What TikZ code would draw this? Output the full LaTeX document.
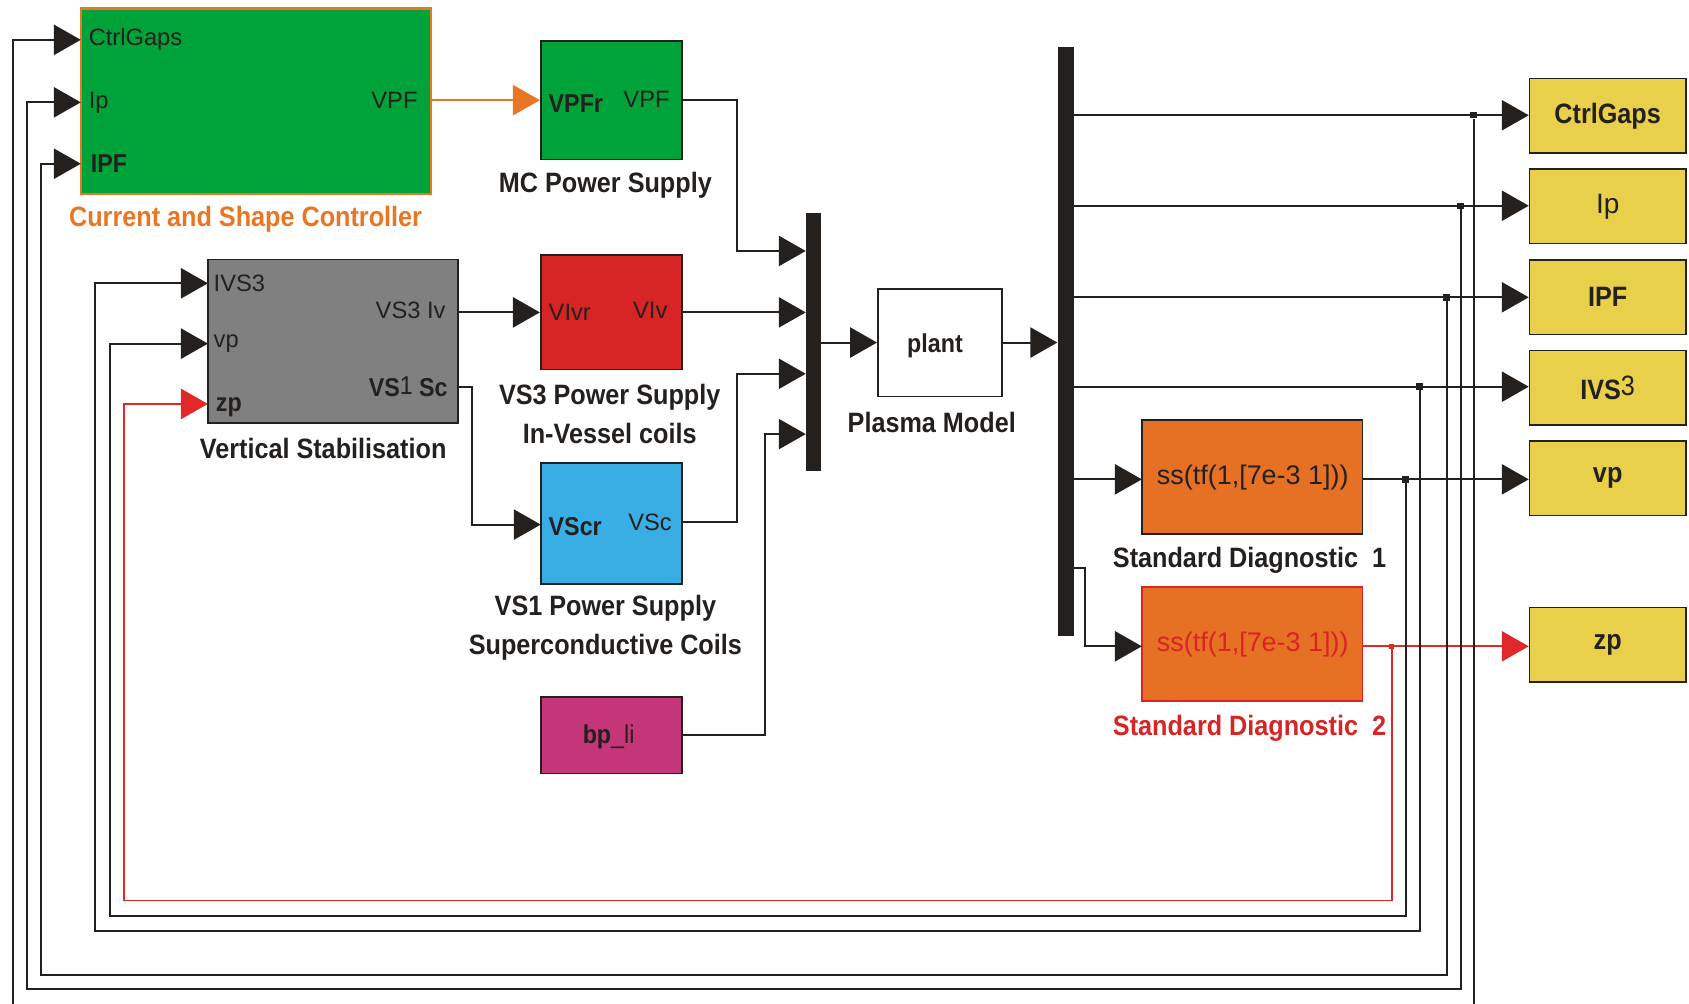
\documentclass[tikz,border=0pt]{standalone}
\usepackage{fontspec}
\setmainfont{Liberation Sans}
\newfontfamily\cf[FakeStretch=0.9]{Liberation Sans}
\usetikzlibrary{arrows.meta,calc}
\definecolor{cgreen}{RGB}{0,162,58}
\definecolor{corange}{RGB}{233,118,34}
\definecolor{cred}{RGB}{215,36,36}
\definecolor{cblue}{RGB}{56,174,228}
\definecolor{cmag}{RGB}{196,54,120}
\definecolor{cgray}{RGB}{128,128,128}
\definecolor{cdiag}{RGB}{230,113,36}
\definecolor{cyellow}{RGB}{233,208,74}
\definecolor{cline}{RGB}{35,32,30}
\definecolor{cwire}{RGB}{225,40,40}
\tikzset{
 blk/.style={draw=cline, line width=0.8pt, inner sep=0pt},
 wire/.style={draw=cline, line width=0.9pt},
 sig/.style={wire, -{Triangle[length=12.5pt,width=14pt]}},
 port/.style={font=\fontsize{11}{12}\selectfont, inner sep=0pt, text=cline},
 bport/.style={font=\cf\bfseries\fontsize{12}{13}\selectfont, inner sep=0pt, text=cline},
 capt/.style={font=\cf\bfseries\fontsize{13}{18}\selectfont, inner sep=0pt, align=center, text=cline},
 blackbar/.style={fill=cline, draw=none, inner sep=0pt},
 jdot/.style={fill=cline, minimum size=3pt, inner sep=0pt},
 outblk/.style={blk, fill=cyellow, minimum width=72.5pt, minimum height=34.5pt, font=\cf\bfseries\fontsize{13}{14}\selectfont, text=cline},
}
\begin{document}
\begin{tikzpicture}[x=0.5pt,y=-0.5pt]
\clip (0,0) rectangle (1568,932);
\fill[white] (0,0) rectangle (1568,932);

% ---------- blocks ----------
\node[blk, draw=corange, line width=1.1pt, fill=cgreen, minimum width=162.5pt, minimum height=86pt] (csc) at (237.5,94) {};
\node[blk, fill=cgreen, minimum width=65.5pt, minimum height=55pt] (mc) at (567.5,93) {};
\node[blk, fill=cgray, minimum width=116pt, minimum height=76pt] (vs) at (309,317) {};
\node[blk, fill=cred, minimum width=65.5pt, minimum height=53pt] (vs3) at (567.5,290) {};
\node[blk, fill=cblue, minimum width=65.5pt, minimum height=56pt] (vs1) at (567.5,486) {};
\node[blk, fill=cmag, minimum width=65.5pt, minimum height=35.5pt] (bpli) at (567.5,682.5) {};
\node[blackbar, minimum width=7pt, minimum height=119.5pt] (mux) at (755,317.5) {};
\node[blk, fill=white, minimum width=57.5pt, minimum height=50pt] (plant) at (872.5,318) {};
\node[blackbar, minimum width=7.5pt, minimum height=273pt] (bus) at (989.5,317) {};
\node[blk, fill=cdiag, minimum width=102.5pt, minimum height=53pt] (d1) at (1162.5,443) {};
\node[blk, draw=cred, fill=cdiag, minimum width=102.5pt, minimum height=53pt] (d2) at (1162.5,598) {};

\node[outblk] (oCG) at (1492.5,107.5) {CtrlGaps};
\node[outblk, font=\fontsize{13}{14}\selectfont] (oIp) at (1492.5,191.5) {Ip};
\node[outblk] (oIPF) at (1492.5,276) {IPF};
\node[outblk] (oIVS) at (1492.5,360) {IVS\raisebox{2pt}{\mdseries 3}};
\node[outblk] (ovp) at (1492.5,444) {vp};
\node[outblk] (ozp) at (1492.5,598.5) {zp};

% ---------- port labels ----------
\node[port, anchor=west] (p1) at (82,37) {CtrlGaps};
\node[port, anchor=west] (p2) at (82,95) {Ip};
\node[bport, anchor=west] (p3) at (84,152) {IPF};
\node[port, anchor=east] (p4) at (388,93) {VPF};
\node[bport, anchor=west] (p5) at (509,96) {VPFr};
\node[port, anchor=east] (p6) at (622,92) {VPF};
\node[port, anchor=west] (p7) at (198,263) {IVS3};
\node[port, anchor=west] (p8) at (198,319) {vp};
\node[bport, anchor=west] (p9) at (200,378) {zp};
\node[port, anchor=east] (p10) at (414,288) {VS3 Iv};
\node[bport, anchor=east] (p11) at (416,359) {VS{\mdseries\raisebox{1pt}{1}}\ Sc};
\node[port, anchor=west] (p12) at (509,290) {VIvr};
\node[port, anchor=east] (p13) at (620,288) {VIv};
\node[bport, anchor=west] (p14) at (509,489) {VScr};
\node[port, anchor=east] (p15) at (624,485) {VSc};
\node[bport] (p16) at (565,684) {bp{\mdseries\_li}};
\node[bport] (p17) at (868,321) {plant};
\node[port, font=\fontsize{12.5}{13}\selectfont] (p18) at (1163,443) {ss(tf(1,[7e-3 1]))};
\node[port, font=\fontsize{12.5}{13}\selectfont, text=cred] (p19) at (1163,598) {ss(tf(1,[7e-3 1]))};

% ---------- captions ----------
\node[capt, text=corange] (lcsc) at (228,204) {Current and Shape Controller};
\node[capt] (lmc) at (562,172) {MC Power Supply};
\node[capt] (lvs) at (300,416) {Vertical Stabilisation};
\node[capt] (lvs3) at (566,384) {VS3 Power Supply\\In-Vessel coils};
\node[capt] (lvs1) at (562,583) {VS1 Power Supply\\Superconductive Coils};
\node[capt] (lpl) at (865,392) {Plasma Model};
\node[capt] (ld1) at (1160,520) {Standard Diagnostic\ \ 1};
\node[capt, text=cred] (ld2) at (1160,676) {Standard Diagnostic\ \ 2};

% ---------- port coordinates ----------
\coordinate (cscin1) at (75,37);
\coordinate (cscin2) at (75,95);
\coordinate (cscin3) at (75,152);
\coordinate (cscout) at (400,93);
\coordinate (vsin1) at (193,263);
\coordinate (vsin2) at (193,319);
\coordinate (vsin3) at (193,375);
\coordinate (vsout1) at (425,290);
\coordinate (vsout2) at (425,359);
\coordinate (vs1in) at (502,487);
\coordinate (vs1out) at (633,485);
\coordinate (bpout) at (633,682);
\coordinate (mux1) at (748,233);
\coordinate (mux2) at (748,290);
\coordinate (mux3) at (748,347);
\coordinate (mux4) at (748,403);
\coordinate (bus1) at (997,107);
\coordinate (bus2) at (997,191);
\coordinate (bus3) at (997,276);
\coordinate (bus4) at (997,359);
\coordinate (bus5) at (997,445);
\coordinate (bus6) at (997,527);
\coordinate (d1in) at (1060,445);
\coordinate (d1out) at (1265,445);
\coordinate (d2in) at (1060,600);
\coordinate (d2out) at (1265,600);

% ---------- junctions ----------
\node[jdot] (jCG) at (1368,107) {};
\node[jdot] (jIp) at (1356,191) {};
\node[jdot] (jIPF) at (1343,276) {};
\node[jdot] (jIVS) at (1318,359) {};
\node[jdot] (jvp) at (1305,445) {};
\node[jdot, fill=cwire, minimum size=2.5pt] (jzp) at (1292,600) {};

% ---------- forward connectors ----------
\draw[sig, draw=corange, -{Triangle[length=12.5pt,width=14pt,fill=corange]}] (cscout) -- (mc.west);
\draw[sig] (mc.east) -| (684,233) -- (mux1);
\draw[sig] (vsout1) -- (vs3.west);
\draw[sig] (vs3.east) -- (mux2);
\draw[sig] (vsout2) -| (438,487) -- (vs1in);
\draw[sig] (vs1out) -| (684,347) -- (mux3);
\draw[sig] (bpout) -| (710,403) -- (mux4);
\draw[sig] (mux.east |- plant.west) -- (plant.west);
\draw[sig] (plant.east) -- (bus.west |- plant.east);
\draw[sig] (bus1) -- (oCG.west |- bus1);
\draw[sig] (bus2) -- (oIp.west |- bus2);
\draw[sig] (bus3) -- (oIPF.west |- bus3);
\draw[sig] (bus4) -- (oIVS.west |- bus4);
\draw[sig] (bus5) -- (d1in);
\draw[sig] (bus6) -| (1007,600) -- (d2in);
\draw[sig] (d1out) -- (ovp.west |- d1out);
\draw[sig, draw=cwire, -{Triangle[length=12.5pt,width=14pt,fill=cwire]}] (d2out) -- (ozp.west |- d2out);

% ---------- feedback connectors ----------
\draw[sig] (jCG) -- (1368,960) -| (12,37) -- (cscin1);
\draw[sig] (jIp) -- (1356,918) -| (25,95) -- (cscin2);
\draw[sig] (jIPF) -- (1343,905) -| (38,152) -- (cscin3);
\draw[sig] (jIVS) -- (1318,864) -| (88,263) -- (vsin1);
\draw[sig] (jvp) -- (1305,850) -| (102,319) -- (vsin2);
\draw[sig, draw=cwire, -{Triangle[length=12.5pt,width=14pt,fill=cwire]}] (jzp) -- (1292,836) -| (115,375) -- (vsin3);

\end{tikzpicture}
\end{document}
